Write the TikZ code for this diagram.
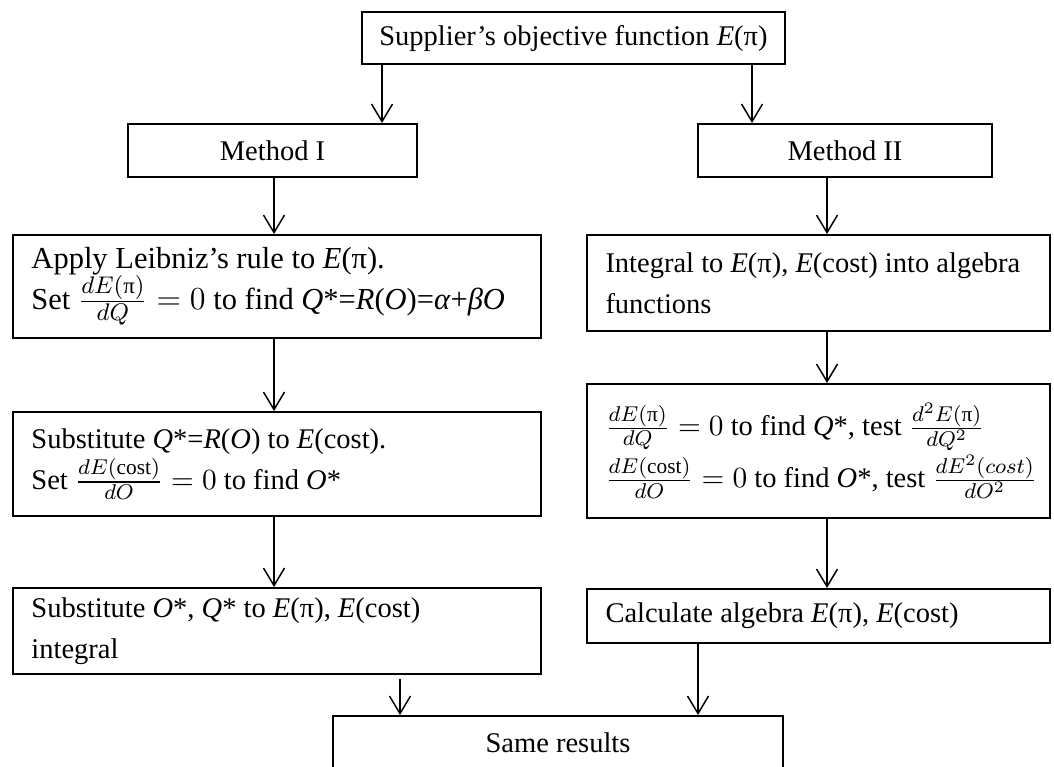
\documentclass[tikz,border=0pt]{standalone}
\usepackage{amsmath}
\usepackage{graphicx}
\usepackage{fontspec}
\setmainfont{Liberation Serif}
\usetikzlibrary{arrows.meta}

% inline formulas are set a little larger than the text
\newcommand{\mth}[1]{\scalebox{1.07}{$#1$}}

\tikzset{
  box/.style={draw, line width=0.8pt, rectangle, inner sep=0pt},
  cbox/.style={box, align=center, font=\fontsize{11.4pt}{16.4pt}\selectfont},
  txt/.style={inner sep=0pt, align=left, anchor=west,
              font=\fontsize{11.4pt}{16.4pt}\selectfont},
  flow/.style={line width=0.6pt, -{Straight Barb[length=7pt,width=8.4pt,line width=0.6pt]}},
}

\begin{document}
\begin{tikzpicture}[x=0.4pt, y=-0.4pt]
  \useasboundingbox (0,0) rectangle (1054,767);
  \clip (0,0) rectangle (1054,767);

  % arrow columns
  \coordinate (cA) at (382,0);
  \coordinate (cB) at (752,0);
  \coordinate (cL) at (274,0);
  \coordinate (cR) at (827,0);
  \coordinate (cS) at (400,0);
  \coordinate (cT) at (698,0);

  % header and method boxes
  \node[cbox, minimum width=169.2pt, minimum height=20.8pt] (top) at (573.5,38)
    {Supplier’s objective function \textit{E}(π)};
  \node[cbox, minimum width=115.6pt, minimum height=21.2pt] (m1) at (272.5,150.5) {Method I};
  \node[cbox, minimum width=117.6pt, minimum height=21.2pt] (m2) at (845,150.5) {Method II};

  % step boxes (left: Method I, right: Method II)
  \node[box, minimum width=211.2pt, minimum height=41.2pt] (L1) at (277,286.5) {};
  \node[box, minimum width=185.2pt, minimum height=38.4pt] (R1) at (818.5,283) {};
  \node[box, minimum width=211.2pt, minimum height=41.6pt] (L2) at (277,464) {};
  \node[box, minimum width=185.2pt, minimum height=53.6pt] (R2) at (818.5,451) {};
  \node[box, minimum width=211.2pt, minimum height=34.4pt] (L3) at (277,631) {};
  \node[box, minimum width=185.2pt, minimum height=21.6pt] (R3) at (818.5,616) {};
  \node[cbox, minimum width=180pt, minimum height=21.6pt] (res) at (558,743) {Same results};

  % step texts
  \node[txt, font=\fontsize{12.2pt}{16.4pt}\selectfont] (L1t) at ([xshift=7.6pt]L1.west)
    {Apply Leibniz’s rule to \textit{E}(π).\\
     Set \mth{\frac{dE(\text{π})}{dQ}=0} to find \textit{Q}*=\textit{R}(\textit{O})=\textit{α}+\textit{βO}};
  \node[txt] (R1t) at ([xshift=7.6pt]R1.west)
    {Integral to \textit{E}(π), \textit{E}(cost) into algebra\\ functions};
  \node[txt] (L2t) at ([xshift=7.6pt]L2.west)
    {Substitute \textit{Q}*=\textit{R}(\textit{O}) to \textit{E}(cost).\\
     Set \mth{\frac{dE(\text{cost})}{dO}=0} to find \textit{O}*};
  \node[txt] (R2t) at ([xshift=7.6pt]R2.west)
    {\mth{\frac{dE(\text{π})}{dQ}=0} to find \textit{Q}*, test \mth{\frac{d^2E(\text{π})}{dQ^2}}\\[1pt]
     \mth{\frac{dE(\text{cost})}{dO}=0} to find \textit{O}*, test \mth{\frac{dE^2(cost)}{dO^2}}};
  \node[txt] (L3t) at ([xshift=7.6pt]L3.west)
    {Substitute \textit{O}*, \textit{Q}* to \textit{E}(π), \textit{E}(cost)\\ integral};
  \node[txt] (R3t) at ([xshift=7.6pt]R3.west)
    {Calculate algebra \textit{E}(π), \textit{E}(cost)};

  % connectors
  \draw[flow] (top.south -| cA) -- (m1.north -| cA);
  \draw[flow] (top.south -| cB) -- (m2.north -| cB);
  \draw[flow] (m1.south -| cL) -- (L1.north -| cL);
  \draw[flow] (m2.south -| cR) -- (R1.north -| cR);
  \draw[flow] (L1.south -| cL) -- (L2.north -| cL);
  \draw[flow] (R1.south -| cR) -- (R2.north -| cR);
  \draw[flow] (L2.south -| cL) -- (L3.north -| cL);
  \draw[flow] (R2.south -| cR) -- (R3.north -| cR);
  \draw[flow] ([yshift=-1.6pt]L3.south -| cS) -- (res.north -| cS);
  \draw[flow] (R3.south -| cT) -- (res.north -| cT);
\end{tikzpicture}
\end{document}
